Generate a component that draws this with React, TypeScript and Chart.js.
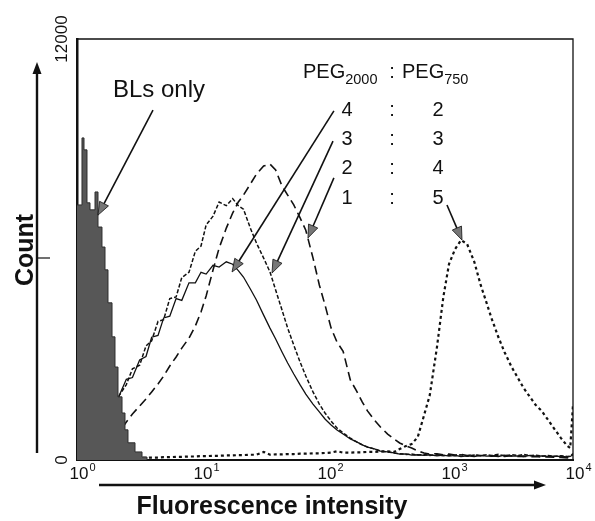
import React, { useEffect, useRef } from "react";
import { Chart, registerables } from "chart.js";

Chart.register(...registerables);

// Fluorescence intensity channels (shared x grid, log scale)
const intensity = [1, 1.25, 1.6, 2, 2.2, 2.5, 2.8, 3.2, 3.6, 4, 4.5, 5, 5.6, 6.3, 7, 8, 9, 10, 11, 12.5, 14, 16, 18, 20, 22, 25, 28, 32, 36, 40, 45, 50, 56, 63, 70, 80, 90, 100, 112, 125, 140, 160, 180, 200, 220, 250, 280, 320, 360, 400, 450, 500, 560, 630, 700, 800, 900, 1000, 1120, 1250, 1400, 1600, 1800, 2000, 2200, 2500, 2800, 3200, 3600, 4000, 4500, 5000, 5600, 6300, 7000, 8000, 9000, 9500, 10000];

// PEG2000 : PEG750 = 4 : 2 (solid)
const ratio42 = [400, 700, 1000, 1425, 1850, 2300, 2350, 2850, 2950, 3500, 3550, 4050, 4100, 4600, 4550, 5050, 5050, 5350, 5300, 5550, 5500, 5650, 5580, 5400, 5215, 4875, 4560, 4130, 3760, 3450, 3080, 2765, 2450, 2140, 1880, 1595, 1370, 1170, 1000, 855, 740, 600, 515, 430, 370, 315, 255, 230, 200, 170, 175, 140, 150, 130, 150, 120, 140, 110, 130, 100, 120, 100, 130, 110, 120, 100, 140, 110, 120, 100, 130, 110, 120, 100, 110, 100, 90, 100, 150];

// 3 : 3 (fine dashes)
const ratio33 = [400, 700, 1000, 1425, 1850, 2150, 2600, 2700, 3250, 3400, 3950, 4000, 4600, 4650, 5200, 5350, 5950, 6100, 6700, 6950, 7350, 7250, 7450, 7250, 7150, 6610, 6185, 5755, 5360, 4845, 4275, 3760, 3275, 2790, 2395, 1940, 1595, 1340, 1110, 910, 770, 625, 515, 430, 370, 315, 255, 230, 200, 180, 160, 170, 140, 160, 130, 150, 120, 140, 120, 150, 110, 140, 120, 150, 130, 160, 120, 150, 130, 160, 120, 140, 110, 130, 100, 120, 100, 110, 180];

// 2 : 4 (dashes)
const ratio24 = [100, 200, 350, 570, 800, 1085, 1310, 1540, 1740, 1940, 2165, 2395, 2680, 2935, 3190, 3475, 3820, 4220, 4675, 5415, 6040, 6610, 7040, 7355, 7550, 7865, 8150, 8380, 8435, 8265, 7810, 7550, 7270, 6900, 6550, 5760, 4990, 4420, 3760, 3360, 3100, 2280, 1965, 1650, 1400, 1140, 940, 740, 600, 485, 400, 340, 255, 200, 170, 180, 150, 170, 140, 160, 130, 150, 120, 140, 110, 130, 100, 120, 100, 110, 90, 100, 80, 90, 80, 70, 60, 70, 120];

// 1 : 5 (dots)
const ratio15 = [0, 0, 30, 40, 40, 50, 50, 60, 60, 70, 70, 80, 80, 90, 90, 100, 100, 110, 110, 120, 120, 130, 130, 140, 140, 150, 150, 230, 150, 160, 160, 170, 170, 180, 180, 190, 190, 200, 210, 250, 210, 210, 220, 220, 230, 230, 240, 250, 230, 315, 400, 455, 655, 1280, 1850, 3220, 4645, 5585, 6015, 6270, 6155, 5645, 4990, 4500, 4045, 3505, 3080, 2650, 2335, 2050, 1795, 1570, 1395, 1140, 910, 625, 400, 340, 1570];

// BLs only histogram: bin edges and counts
const blEdges = [1, 1.097, 1.139, 1.204, 1.273, 1.397, 1.477, 1.59, 1.682, 1.778, 1.916, 2.025, 2.141, 2.307, 2.438, 2.578, 2.936, 3.344, 3.668];
const blCounts = [7270, 9180, 8840, 7330, 7130, 7640, 6640, 6070, 5420, 4480, 3510, 2650, 1800, 1340, 860, 490, 230, 85];

const xTickValues = [1, 10, 100, 1000, 10000];
const xTickExponents = ["0", "1", "2", "3", "4"];
const yTickValues = [0, 12000];
const yTickLabels = ["0", "12000"];

const ratioRows = [["4", "2"], ["3", "3"], ["2", "4"], ["1", "5"]];

// arrows: [fromX, fromY, toX, toY] in data units
const arrowBL = [4.1, 9975, 1.477, 6980];
const arrow42 = [118, 9950, 17.8, 5360];
const arrow33 = [116, 9090, 37.4, 5330];
const arrow24 = [118, 8040, 72.9, 6330];
const arrow15 = [963, 7270, 1273, 6270];

const FONT = '"Liberation Sans", Arial, Helvetica, sans-serif';

function drawArrow(ctx: CanvasRenderingContext2D, x1: number, y1: number, x2: number, y2: number, hl = 13, hw = 5) {
  const ang = Math.atan2(y2 - y1, x2 - x1);
  const bx = x2 - hl * Math.cos(ang);
  const by = y2 - hl * Math.sin(ang);
  ctx.beginPath();
  ctx.moveTo(x1, y1);
  ctx.lineTo(bx, by);
  ctx.lineWidth = 1.6;
  ctx.strokeStyle = "#111";
  ctx.stroke();
  ctx.beginPath();
  ctx.moveTo(x2, y2);
  ctx.lineTo(bx + hw * Math.sin(ang), by - hw * Math.cos(ang));
  ctx.lineTo(bx - hw * Math.sin(ang), by + hw * Math.cos(ang));
  ctx.closePath();
  ctx.fillStyle = "#777";
  ctx.fill();
  ctx.lineWidth = 0.8;
  ctx.stroke();
}

const decorPlugin = {
  id: "decor",
  afterDraw(chart: any) {
    const ctx: CanvasRenderingContext2D = chart.ctx;
    const { left, right, top, bottom } = chart.chartArea;
    const xs = chart.scales.x;
    const ys = chart.scales.y;
    ctx.save();

    // frame top/right
    ctx.strokeStyle = "#111";
    ctx.lineWidth = 1.3;
    ctx.beginPath();
    ctx.moveTo(left, top);
    ctx.lineTo(right, top);
    ctx.lineTo(right, bottom);
    ctx.stroke();

    ctx.fillStyle = "#111";
    // x tick labels 10^n
    xs.ticks.forEach((t: any, i: number) => {
      const px = xs.getPixelForValue(t.value) + 2;
      ctx.font = `17px ${FONT}`;
      ctx.textAlign = "center";
      ctx.textBaseline = "alphabetic";
      ctx.fillText("10", px, 479);
      const w = ctx.measureText("10").width;
      ctx.font = `11px ${FONT}`;
      ctx.textAlign = "left";
      ctx.fillText(xTickExponents[i] ?? "", px + w / 2 + 1, 471);
    });

    // y tick labels (rotated)
    ys.ticks.forEach((t: any, i: number) => {
      const py = ys.getPixelForValue(t.value);
      ctx.save();
      ctx.translate(67, py);
      ctx.rotate(-Math.PI / 2);
      ctx.font = `17px ${FONT}`;
      ctx.textAlign = "center";
      ctx.textBaseline = "alphabetic";
      ctx.fillText(yTickLabels[i] ?? "", 0, 0);
      ctx.restore();
    });

    // Count label + arrow
    ctx.save();
    ctx.translate(33, 250);
    ctx.rotate(-Math.PI / 2);
    ctx.font = `bold 25px ${FONT}`;
    ctx.textAlign = "center";
    ctx.fillText("Count", 0, 0);
    ctx.restore();

    ctx.lineWidth = 2.4;
    ctx.beginPath();
    ctx.moveTo(37, 453);
    ctx.lineTo(37, 70);
    ctx.stroke();
    ctx.beginPath();
    ctx.moveTo(37, 62);
    ctx.lineTo(32.5, 74);
    ctx.lineTo(41.5, 74);
    ctx.closePath();
    ctx.fill();
    ctx.lineWidth = 1.2;
    ctx.beginPath();
    ctx.moveTo(37, 258);
    ctx.lineTo(50, 258);
    ctx.stroke();

    // Fluorescence intensity arrow + label
    ctx.lineWidth = 2.4;
    ctx.beginPath();
    ctx.moveTo(99, 485);
    ctx.lineTo(536, 485);
    ctx.stroke();
    ctx.beginPath();
    ctx.moveTo(546, 485);
    ctx.lineTo(534, 480.5);
    ctx.lineTo(534, 489.5);
    ctx.closePath();
    ctx.fill();
    ctx.font = `bold 25px ${FONT}`;
    ctx.textAlign = "center";
    ctx.fillText("Fluorescence intensity", 272, 514);

    // BLs only
    ctx.font = `24px ${FONT}`;
    ctx.textAlign = "left";
    ctx.fillText("BLs only", 113, 97);

    // Legend header PEG2000 : PEG750
    ctx.font = `20px ${FONT}`;
    ctx.fillText("PEG", 303, 78);
    let w = ctx.measureText("PEG").width;
    ctx.font = `14.5px ${FONT}`;
    ctx.fillText("2000", 303 + w, 84);
    ctx.font = `20px ${FONT}`;
    ctx.textAlign = "center";
    ctx.fillText(":", 392, 78);
    ctx.textAlign = "left";
    ctx.fillText("PEG", 402, 78);
    w = ctx.measureText("PEG").width;
    ctx.font = `14.5px ${FONT}`;
    ctx.fillText("750", 402 + w, 84);

    // ratio rows
    const baselines = [116, 145, 174, 204];
    ctx.font = `20px ${FONT}`;
    ctx.textAlign = "center";
    ratioRows.forEach((r, i) => {
      ctx.fillText(r[0], 347, baselines[i]);
      ctx.fillText(":", 392, baselines[i]);
      ctx.fillText(r[1], 438, baselines[i]);
    });

    // arrows
    [arrowBL, arrow42, arrow33, arrow24, arrow15].forEach((a) => {
      drawArrow(ctx, xs.getPixelForValue(a[0]), ys.getPixelForValue(a[1]), xs.getPixelForValue(a[2]), ys.getPixelForValue(a[3]));
    });

    ctx.restore();
  },
};

export default function App() {
  const ref = useRef<HTMLCanvasElement | null>(null);
  useEffect(() => {
    document.body.style.margin = "0";
    document.body.style.overflow = "hidden";
    const canvas = ref.current;
    if (!canvas) return;
    const toPts = (arr: number[]) => intensity.map((x, i) => ({ x, y: arr[i] }));
    const blPts = blEdges.map((x, i) => ({ x, y: i < blCounts.length ? blCounts[i] : 0 }));
    const common = { pointRadius: 0, tension: 0, fill: false, borderColor: "#111", borderCapStyle: "butt" as const };
    const chart = new Chart(canvas, {
      type: "line",
      data: {
        datasets: [
          { label: "BLs only", data: blPts, stepped: "before", fill: "origin", backgroundColor: "#575757", borderColor: "#2e2e2e", borderWidth: 1, pointRadius: 0, order: 0 },
          { label: "4:2", data: toPts(ratio42), ...common, borderWidth: 1.3, order: 1 },
          { label: "3:3", data: toPts(ratio33), ...common, borderWidth: 1.5, borderDash: [4, 2], order: 2 },
          { label: "2:4", data: toPts(ratio24), ...common, borderWidth: 1.6, borderDash: [9, 5], order: 3 },
          { label: "1:5", data: toPts(ratio15), ...common, borderWidth: 2.2, borderDash: [3, 3], order: 4 },
        ] as any,
      },
      options: {
        animation: false,
        responsive: false,
        maintainAspectRatio: false,
        layout: { padding: { left: 0, right: 22, top: 39, bottom: 0 } },
        plugins: { legend: { display: false }, tooltip: { enabled: false } },
        scales: {
          x: {
            type: "logarithmic",
            min: 1,
            max: 10000,
            afterBuildTicks: (s: any) => {
              s.ticks = xTickValues.map((v) => ({ value: v }));
            },
            afterFit: (s: any) => {
              s.height = 61;
            },
            ticks: { display: false },
            grid: { display: false },
            border: { display: true, color: "#111", width: 2 },
          },
          y: {
            type: "linear",
            min: 0,
            max: 12000,
            afterBuildTicks: (s: any) => {
              s.ticks = yTickValues.map((v) => ({ value: v }));
            },
            afterFit: (s: any) => {
              s.width = 77;
            },
            ticks: { display: false },
            grid: { display: false },
            border: { display: true, color: "#111", width: 2.5 },
          },
        },
      },
      plugins: [decorPlugin],
    });
    return () => chart.destroy();
  }, []);
  return <canvas ref={ref} width={595} height={521} style={{ display: "block" }} />;
}
